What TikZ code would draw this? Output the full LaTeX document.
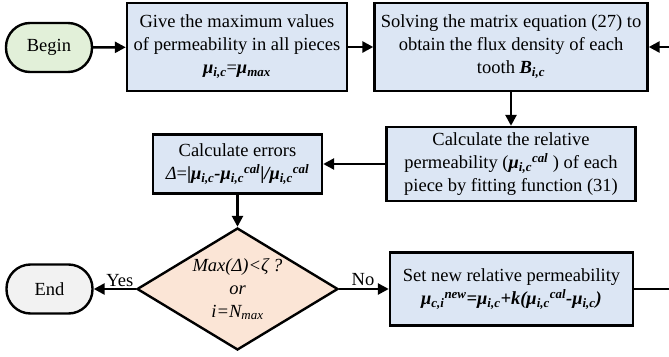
\documentclass[tikz,border=0pt]{standalone}
\usepackage{fontspec}
\setmainfont{Liberation Serif}
\usepackage{xcolor}
\usepackage{tikz}
\usetikzlibrary{arrows.meta, shapes.geometric}

\definecolor{boxblue}{HTML}{DCE6F4}
\definecolor{termgreen}{HTML}{E2F0D9}
\definecolor{termgray}{HTML}{F2F2F2}
\definecolor{decpeach}{HTML}{FBE5D6}

\begin{document}
\begin{tikzpicture}[x=1pt, y=-1pt, font=\fontsize{18.5}{23}\selectfont,
    box/.style={draw, line width=2.4pt, fill=boxblue, align=center, inner sep=2pt},
    term/.style={draw, line width=2.4pt, rounded corners=24pt, minimum width=86pt, minimum height=49pt},
    flow/.style={line width=2.6pt, -{Triangle[length=11pt, width=11pt]}}]
    \useasboundingbox (0,0) rectangle (669,356);
    \clip (0,0) rectangle (669,356);
    \node[term, fill=termgreen] (begin) at (49,47.5) {Begin};
    \node[box, minimum width=220pt, minimum height=88pt] (give) at (237,47)
      {Give the maximum values\\of permeability in all pieces\\{\bfseries\itshape μ\textsubscript{i,c}}={\bfseries\itshape μ\textsubscript{max}}};
    \node[box, minimum width=273pt, minimum height=88pt] (solve) at (511,47)
      {Solving the matrix equation (27) to\\obtain the flux density of each\\tooth {\bfseries\itshape B\textsubscript{i,c}}};
    \node[box, minimum width=249pt, minimum height=74pt] (relperm) at (511,164)
      {Calculate the relative\\permeability ({\bfseries\itshape μ\textsubscript{i,c}\textsuperscript{cal}} ) of each\\piece by fitting function (31)};
    \node[box, minimum width=169pt, minimum height=59pt] (errors) at (237.5,164)
      {Calculate errors\\{\itshape Δ}={\bfseries|\itshape μ\textsubscript{i,c}-μ\textsubscript{i,c}\textsuperscript{cal}\upshape|\itshape/μ\textsubscript{i,c}\textsuperscript{cal}}};
    \node[draw, diamond, line width=2.4pt, fill=decpeach, aspect=1.65, inner sep=0pt,
      minimum width=201pt, minimum height=122pt, align=center] (check) at (237.5,289)
      {\itshape Max(Δ)<ζ ?\\\itshape or\\\itshape i=N\textsubscript{max}};
    \node[box, minimum width=243pt, minimum height=73pt] (update) at (511.5,289)
      {Set new relative permeability\\{\bfseries\itshape μ\textsubscript{c,i}\textsuperscript{new}=μ\textsubscript{i,c}+k(μ\textsubscript{i,c}\textsuperscript{cal}-μ\textsubscript{i,c})}};
    \node[term, fill=termgray] (end) at (49.5,289) {End};
    \coordinate (loop) at (685,289);
    \draw[flow] (begin) -- (give);
    \draw[flow] (give) -- (solve);
    \draw[flow] (solve) -- (relperm);
    \draw[flow] (relperm) -- (errors);
    \draw[flow] (errors) -- (check);
    \draw[flow] (check) -- node[above, pos=0.38, inner sep=1pt] {Yes} (end);
    \draw[flow] (check) -- node[above, pos=0.48, inner sep=2pt] {No} (update);
    \draw[flow] (update.east) -- (loop) |- (solve.east);
  \end{tikzpicture}
\end{document}
